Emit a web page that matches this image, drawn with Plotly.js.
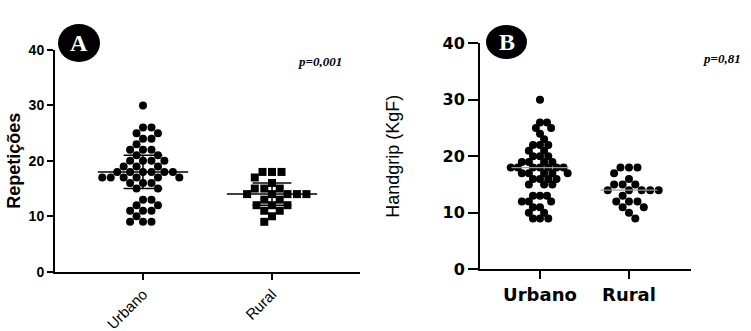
<!DOCTYPE html>
<html><head><meta charset="utf-8">
<script src="https://cdn.plot.ly/plotly-3.0.1.min.js"></script>
<style>html,body{margin:0;padding:0;background:#fff;}</style>
</head><body>
<div id="chart" style="width:751px;height:331px;"></div>
<script>
const W = 751, H = 331;
const categories = ['Urbano', 'Rural'];
const yTicks = [0, 10, 20, 30, 40];
// Panel A: Repetições
const repUrbano = [30, 26, 26, 25, 25, 24, 24, 23, 22, 22, 22, 21, 21, 20, 20, 20, 20, 19, 19, 19,
  18, 18, 18, 18, 18, 18, 17, 17, 17, 17, 17, 17, 16, 16, 16, 15, 15, 13, 13, 12, 12, 11, 11, 11, 10, 9, 9, 9];
const repRural = [18, 18, 18, 17, 16, 15, 15, 15, 14, 14, 14, 14, 14, 13, 13, 12, 12, 12, 11, 11, 10, 9];
const repCenter = [18, 14];
const repLow = [15, 12];
const repHigh = [21, 16];
// Panel B: Handgrip (KgF)
const hgUrbano = [30, 26, 26, 25, 25, 24, 23, 22, 22, 22, 21, 21, 20, 20, 20, 19, 19, 19, 19,
  18, 18, 18, 18, 18, 18, 18, 17, 17, 17, 17, 17, 16, 16, 16, 16, 15, 15, 15, 13, 13, 13, 12, 12, 12, 11, 11, 10, 10, 9, 9, 9];
const hgRural = [18, 18, 18, 17, 16, 15, 15, 15, 14, 14, 14, 14, 14, 13, 12, 12, 12, 11, 11, 10, 9];
const hgCenter = [18, 14];
const pValues = ['p=0,001', 'p=0,81'];
const panelLetters = ['A', 'B'];
const yTitles = ['Repetições', 'Handgrip (KgF)'];

// axis geometry (layout)
const axA = {xd: [55 / W, 360 / W], xr: [-0.682, 1.682], yd: [(H - 271.7) / H, (H - 50) / H]};
const axB = {xd: [480 / W, 691 / W], xr: [-0.674, 1.697], yd: [(H - 269.3) / H, (H - 43.3) / H]};
function scales(ax) {
  return {kx: (ax.xd[1] - ax.xd[0]) * W / (ax.xr[1] - ax.xr[0]), ky: (ax.yd[1] - ax.yd[0]) * H / 40};
}
// beeswarm offsets (in x data units) computed from values, placed top-down
function swarm(vals, D, s) {
  const order = vals.map((v, i) => i).sort((a, b) => vals[b] - vals[a]);
  const placed = [], off = new Array(vals.length).fill(0);
  let flip = 1;
  for (const i of order) {
    const y = vals[i] * s.ky;
    const cands = [0];
    for (const p of placed) {
      const dy = y - p.y;
      if (Math.abs(dy) < D) { const dx = Math.sqrt(D * D - dy * dy); cands.push(p.x + dx, p.x - dx); }
    }
    const ok = cands.filter(c => placed.every(p => (c - p.x) ** 2 + (y - p.y) ** 2 >= D * D - 1e-6));
    ok.sort((a, b) => { const d = Math.abs(a) - Math.abs(b); return Math.abs(d) > 1e-6 ? d : (b - a) * flip; });
    const x = ok[0]; flip = -flip;
    placed.push({x, y}); off[i] = x / s.kx;
  }
  return off;
}
const sA = scales(axA), sB = scales(axB);
function pts(vals, idx, D, s) { return swarm(vals, D, s).map(o => idx + o); }

const traces = [];
function scatter(x, y, xa, ya, symbol) {
  traces.push({type: 'scatter', mode: 'markers', x, y, xaxis: xa, yaxis: ya, hoverinfo: 'skip',
    marker: {symbol, size: 8, color: '#000', line: {width: 0}}, showlegend: false, cliponaxis: false});
}
scatter(pts(repUrbano, 0, 8.5, sA), repUrbano, 'x', 'y', 'circle');
scatter(pts(repRural, 1, 9.5, sA), repRural, 'x', 'y', 'square');
scatter(pts(hgUrbano, 0, 7, sB), hgUrbano, 'x2', 'y2', 'circle');
scatter(pts(hgRural, 1, 8.5, sB), hgRural, 'x2', 'y2', 'circle');

function centerLines(center, low, high, xa, ya, half, cap, color, w) {
  const x = [], y = [];
  center.forEach((c, i) => { x.push(i - half, i + half, null); y.push(c, c, null); });
  if (low) {
    low.forEach((l, i) => {
      x.push(i, i, null, i - cap, i + cap, null, i - cap, i + cap, null);
      y.push(l, high[i], null, l, l, null, high[i], high[i], null);
    });
  }
  traces.push({type: 'scatter', mode: 'lines', x, y, xaxis: xa, yaxis: ya, hoverinfo: 'skip',
    line: {color, width: w}, showlegend: false});
}
centerLines(repCenter, repLow, repHigh, 'x', 'y', 0.35, 0.15, '#000', 1.5);
centerLines(hgCenter, null, null, 'x2', 'y2', 0.32, 0, '#9a9a9a', 1.3);

const axisCommon = {showgrid: false, zeroline: false, showline: true, linecolor: '#000', linewidth: 2,
  ticks: 'outside', tickcolor: '#000', tickwidth: 2, fixedrange: true};
const layout = {
  width: W, height: H, margin: {l: 0, r: 0, t: 0, b: 0}, paper_bgcolor: '#fff', plot_bgcolor: '#fff',
  showlegend: false,
  xaxis: Object.assign({}, axisCommon, {domain: axA.xd, range: axA.xr, anchor: 'y', tickvals: [0, 1], ticktext: categories,
    tickangle: -45, ticklen: 6, tickfont: {family: 'Liberation Sans, Arial', size: 15, color: '#000'}}),
  yaxis: Object.assign({}, axisCommon, {domain: axA.yd, range: [0, 40], anchor: 'x', tickvals: yTicks, ticklen: 6,
    tickfont: {family: 'Liberation Sans, Arial', size: 14, color: '#000', weight: 'bold'},
    title: {text: yTitles[0], standoff: 3, font: {family: 'Liberation Sans, Arial', size: 18, color: '#000', weight: 'bold'}}}),
  xaxis2: Object.assign({}, axisCommon, {domain: axB.xd, range: axB.xr, anchor: 'y2', tickvals: [0, 1], ticktext: categories,
    ticklen: 8, tickfont: {family: 'DejaVu Sans', size: 18, color: '#000', weight: 'bold'}}),
  yaxis2: Object.assign({}, axisCommon, {domain: axB.yd, range: [0, 40], anchor: 'x2', tickvals: yTicks, ticklen: 10,
    tickfont: {family: 'DejaVu Sans', size: 16, color: '#000', weight: 'bold'},
    title: {text: yTitles[1], standoff: 38, font: {family: 'Liberation Sans, Arial', size: 18, color: '#000'}}}),
  shapes: [
    {type: 'circle', xref: 'paper', yref: 'paper', x0: 58 / W, x1: 100 / W, y0: (H - 62) / H, y1: (H - 24) / H, fillcolor: '#000', line: {width: 0}},
    {type: 'circle', xref: 'paper', yref: 'paper', x0: 486 / W, x1: 527 / W, y0: (H - 59) / H, y1: (H - 25) / H, fillcolor: '#000', line: {width: 0}}
  ],
  annotations: [
    {text: panelLetters[0], xref: 'paper', yref: 'paper', x: 79 / W, y: (H - 43) / H, showarrow: false, xanchor: 'center', yanchor: 'middle',
      font: {family: 'Liberation Serif', size: 24, color: '#fff', weight: 'bold'}},
    {text: panelLetters[1], xref: 'paper', yref: 'paper', x: 506.5 / W, y: (H - 42) / H, showarrow: false, xanchor: 'center', yanchor: 'middle',
      font: {family: 'Liberation Serif', size: 24, color: '#fff', weight: 'bold'}},
    {text: pValues[0], xref: 'paper', yref: 'paper', x: 320 / W, y: (H - 61) / H, showarrow: false, xanchor: 'center', yanchor: 'middle',
      font: {family: 'Liberation Serif', size: 13, color: '#000', weight: 'bold', style: 'italic'}},
    {text: pValues[1], xref: 'paper', yref: 'paper', x: 721.5 / W, y: (H - 59) / H, showarrow: false, xanchor: 'center', yanchor: 'middle',
      font: {family: 'Liberation Serif', size: 13, color: '#000', weight: 'bold', style: 'italic'}}
  ]
};
Plotly.newPlot('chart', traces, layout, {staticPlot: true, displayModeBar: false});
</script>
</body></html>
